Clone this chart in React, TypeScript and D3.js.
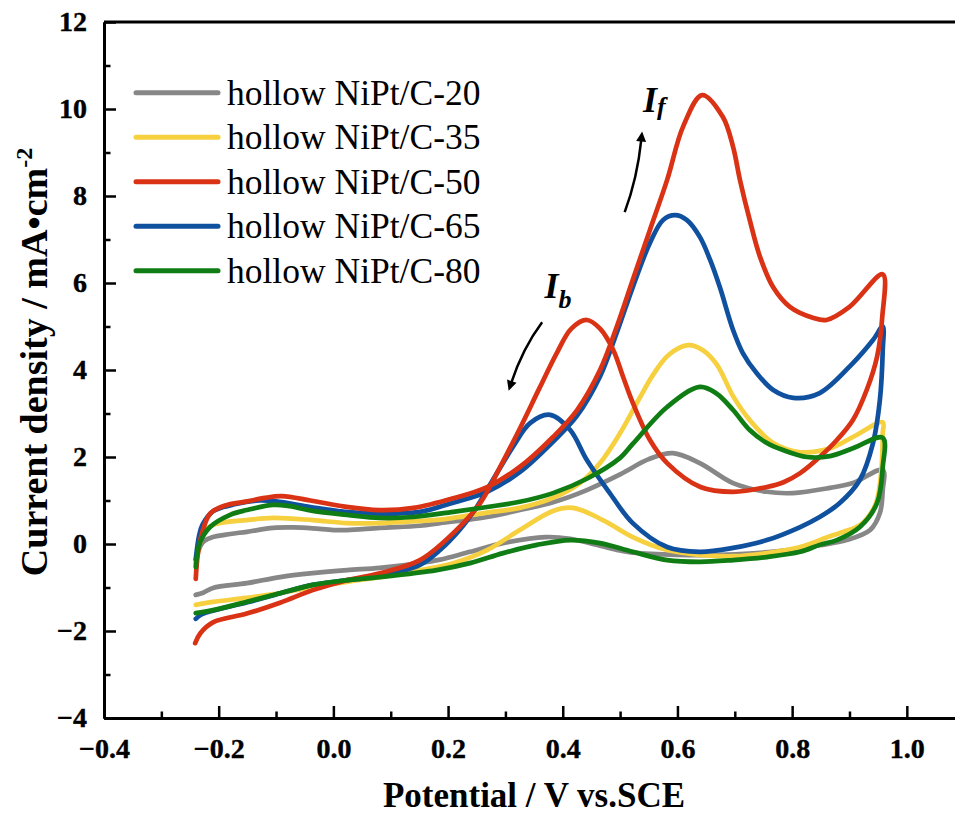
import { useEffect, useRef } from "react";
import * as d3 from "d3";

type Pt = [number, number];

// potential (V vs. SCE), current density (mA cm-2)
const c20Forward: Pt[] = [[-0.24,-0.37],[-0.232,-0.05],[-0.225,0.07],[-0.21,0.16],[-0.18,0.23],[-0.151,0.28],[-0.105,0.37],[-0.07,0.38],[-0.036,0.36],[0.0,0.32],[0.024,0.32],[0.081,0.37],[0.151,0.42],[0.186,0.48],[0.268,0.62],[0.325,0.78],[0.383,0.96],[0.442,1.24],[0.5,1.6],[0.55,1.95],[0.592,2.09],[0.639,1.86],[0.697,1.4],[0.756,1.2],[0.801,1.17],[0.866,1.29],[0.906,1.4],[0.958,1.7]];
const c20Backward: Pt[] = [[0.958,1.24],[0.953,0.71],[0.936,0.32],[0.895,0.09],[0.848,-0.03],[0.8,-0.13],[0.7,-0.24],[0.6,-0.25],[0.522,-0.2],[0.5,-0.15],[0.465,-0.04],[0.413,0.12],[0.37,0.16],[0.296,0.02],[0.238,-0.18],[0.186,-0.36],[0.151,-0.44],[0.081,-0.55],[0.024,-0.6],[-0.036,-0.67],[-0.093,-0.76],[-0.151,-0.9],[-0.21,-1.01],[-0.227,-1.12],[-0.24,-1.17]];

const c35Forward: Pt[] = [[-0.24,-0.45],[-0.233,0.0],[-0.227,0.25],[-0.21,0.44],[-0.151,0.55],[-0.105,0.6],[-0.036,0.55],[0.024,0.48],[0.081,0.48],[0.151,0.53],[0.186,0.56],[0.268,0.72],[0.325,0.83],[0.383,1.06],[0.43,1.4],[0.465,1.86],[0.5,2.55],[0.535,3.38],[0.558,3.9],[0.585,4.35],[0.619,4.57],[0.645,4.45],[0.669,4.12],[0.697,3.4],[0.726,2.85],[0.767,2.32],[0.814,2.11],[0.866,2.2],[0.906,2.46],[0.958,2.8]];
const c35Backward: Pt[] = [[0.958,2.55],[0.955,1.6],[0.945,0.9],[0.92,0.45],[0.89,0.28],[0.866,0.18],[0.814,-0.07],[0.756,-0.21],[0.697,-0.28],[0.639,-0.25],[0.582,-0.14],[0.522,0.16],[0.47,0.55],[0.418,0.83],[0.383,0.76],[0.325,0.32],[0.268,-0.14],[0.209,-0.44],[0.151,-0.6],[0.081,-0.76],[0.024,-0.87],[-0.036,-0.99],[-0.093,-1.13],[-0.151,-1.24],[-0.21,-1.33],[-0.24,-1.4]];

const c50Forward: Pt[] = [[-0.24,-0.8],[-0.236,-0.2],[-0.228,0.3],[-0.215,0.7],[-0.19,0.88],[-0.15,0.98],[-0.12,1.06],[-0.09,1.1],[-0.04,1.0],[0.02,0.86],[0.08,0.78],[0.14,0.83],[0.209,1.05],[0.268,1.31],[0.325,1.77],[0.383,2.46],[0.425,3.08],[0.465,4.0],[0.494,4.99],[0.522,6.07],[0.552,7.22],[0.582,8.37],[0.61,9.6],[0.643,10.32],[0.679,9.82],[0.697,9.13],[0.709,8.37],[0.726,7.45],[0.744,6.6],[0.767,5.9],[0.796,5.45],[0.836,5.2],[0.86,5.15],[0.9,5.45],[0.958,6.2]];
const c50Backward: Pt[] = [[0.957,5.2],[0.948,4.3],[0.93,3.54],[0.906,2.85],[0.878,2.39],[0.848,2.0],[0.814,1.63],[0.785,1.42],[0.756,1.31],[0.697,1.2],[0.64,1.31],[0.582,1.86],[0.552,2.39],[0.522,3.25],[0.505,3.85],[0.488,4.46],[0.465,4.95],[0.442,5.15],[0.415,4.95],[0.39,4.4],[0.36,3.6],[0.325,2.65],[0.29,1.75],[0.256,0.94],[0.209,0.25],[0.151,-0.37],[0.081,-0.67],[0.024,-0.83],[-0.036,-1.06],[-0.093,-1.35],[-0.151,-1.6],[-0.21,-1.8],[-0.232,-2.05],[-0.241,-2.28]];

const c65Forward: Pt[] = [[-0.24,-0.35],[-0.234,0.2],[-0.228,0.45],[-0.21,0.75],[-0.17,0.92],[-0.13,1.0],[-0.1,0.98],[-0.04,0.85],[0.02,0.74],[0.08,0.7],[0.151,0.74],[0.209,0.95],[0.268,1.2],[0.325,1.65],[0.383,2.35],[0.425,2.95],[0.465,3.85],[0.494,4.85],[0.522,5.9],[0.552,6.92],[0.575,7.45],[0.596,7.56],[0.616,7.45],[0.639,7.06],[0.657,6.53],[0.674,5.9],[0.697,4.92],[0.714,4.39],[0.738,3.93],[0.767,3.54],[0.802,3.36],[0.848,3.47],[0.906,4.16],[0.941,4.69],[0.958,5.0]];
const c65Backward: Pt[] = [[0.958,4.46],[0.953,3.31],[0.941,2.32],[0.918,1.47],[0.883,0.94],[0.848,0.62],[0.814,0.39],[0.756,0.09],[0.697,-0.09],[0.639,-0.18],[0.582,-0.07],[0.522,0.48],[0.482,1.17],[0.442,1.93],[0.413,2.62],[0.378,2.97],[0.343,2.78],[0.313,2.23],[0.278,1.47],[0.25,0.85],[0.22,0.32],[0.186,-0.14],[0.151,-0.48],[0.081,-0.74],[0.024,-0.83],[-0.036,-0.94],[-0.1,-1.16],[-0.15,-1.34],[-0.2,-1.5],[-0.23,-1.62],[-0.24,-1.72]];

const c80Forward: Pt[] = [[-0.24,-0.53],[-0.233,0.02],[-0.215,0.39],[-0.18,0.67],[-0.151,0.78],[-0.105,0.9],[-0.076,0.87],[-0.036,0.76],[0.024,0.67],[0.081,0.6],[0.139,0.62],[0.209,0.74],[0.268,0.85],[0.325,0.97],[0.383,1.17],[0.442,1.5],[0.5,1.98],[0.522,2.3],[0.582,3.15],[0.639,3.61],[0.668,3.46],[0.697,3.08],[0.726,2.62],[0.756,2.32],[0.784,2.16],[0.826,2.0],[0.866,2.02],[0.906,2.2],[0.958,2.44]];
const c80Backward: Pt[] = [[0.958,1.77],[0.948,0.94],[0.918,0.39],[0.878,0.09],[0.848,-0.02],[0.814,-0.18],[0.756,-0.3],[0.697,-0.37],[0.639,-0.41],[0.582,-0.37],[0.522,-0.18],[0.465,0.02],[0.413,0.09],[0.355,-0.02],[0.296,-0.21],[0.238,-0.44],[0.18,-0.6],[0.081,-0.76],[0.024,-0.83],[-0.036,-0.94],[-0.093,-1.13],[-0.151,-1.33],[-0.21,-1.52],[-0.24,-1.59]];

const seriesNames = ["hollow NiPt/C-20", "hollow NiPt/C-35", "hollow NiPt/C-50", "hollow NiPt/C-65", "hollow NiPt/C-80"];
const seriesColors = ["#878787", "#f6d03f", "#da3214", "#10519f", "#0f7d14"];
const seriesData = [
  c20Forward.concat(c20Backward),
  c35Forward.concat(c35Backward),
  c50Forward.concat(c50Backward),
  c65Forward.concat(c65Backward),
  c80Forward.concat(c80Backward),
];
const drawOrder = [0, 1, 3, 2, 4];

const xTicks = [-0.4, -0.2, 0.0, 0.2, 0.4, 0.6, 0.8, 1.0];
const xMinor = [-0.3, -0.1, 0.1, 0.3, 0.5, 0.7, 0.9];
const yTicks = [-4, -2, 0, 2, 4, 6, 8, 10, 12];
const yMinor = [-3, -1, 1, 3, 5, 7, 9, 11];

const FONT = "'Liberation Serif', 'Times New Roman', serif";

const App = () => {
  const ref = useRef<SVGSVGElement>(null);

  useEffect(() => {
    const left = 104, right = 955, top = 22, bottom = 718;

    const svg = d3.select(ref.current);
    svg.selectAll("*").remove();

    const x = d3.scaleLinear().domain([-0.4, 1.084]).range([left, right]);
    const y = d3.scaleLinear().domain([-4, 12]).range([bottom, top]);

    svg
      .append("defs")
      .append("marker")
      .attr("id", "head")
      .attr("viewBox", "0 0 10 10")
      .attr("refX", 2)
      .attr("refY", 5)
      .attr("markerWidth", 18)
      .attr("markerHeight", 10)
      .attr("markerUnits", "userSpaceOnUse")
      .attr("orient", "auto")
      .append("path")
      .attr("d", "M0,0 L10,5 L0,10 Z")
      .attr("fill", "#000");

    // curves
    const line = d3
      .line<Pt>()
      .x((d) => x(d[0]))
      .y((d) => y(d[1]))
      .curve(d3.curveCatmullRom.alpha(0.5));

    const g = svg.append("g");
    drawOrder.forEach((i) => {
      g.append("path")
        .attr("d", line(seriesData[i]))
        .attr("fill", "none")
        .attr("stroke", seriesColors[i])
        .attr("stroke-width", 4.7)
        .attr("stroke-linecap", "round")
        .attr("stroke-linejoin", "round");
    });

    // axes
    const fmtX = d3.format(".1f");
    const xAxis = svg
      .append("g")
      .attr("transform", `translate(0,${bottom})`)
      .call(
        d3.axisBottom(x).tickValues(xTicks).tickFormat((d) => fmtX(d as number)).tickSizeInner(-12).tickSizeOuter(0).tickPadding(20)
      );
    svg
      .append("g")
      .attr("transform", `translate(0,${bottom})`)
      .call(d3.axisBottom(x).tickValues(xMinor).tickFormat(() => "").tickSizeInner(-6.5).tickSizeOuter(0));

    const yAxis = svg
      .append("g")
      .attr("transform", `translate(${left},0)`)
      .call(d3.axisLeft(y).tickValues(yTicks).tickSizeInner(-12).tickSizeOuter(0).tickPadding(17));
    svg
      .append("g")
      .attr("transform", `translate(${left},0)`)
      .call(d3.axisLeft(y).tickValues(yMinor).tickFormat(() => "").tickSizeInner(-6.5).tickSizeOuter(0));

    svg.selectAll(".domain").attr("stroke", "#000").attr("stroke-width", 3);
    svg.selectAll(".tick line").attr("stroke", "#000").attr("stroke-width", 2.5);
    [xAxis, yAxis].forEach((a) =>
      a.selectAll("text")
        .attr("font-family", FONT)
        .attr("font-weight", "bold")
        .attr("font-size", 28)
        .attr("fill", "#000")
        .attr("stroke", "#000")
        .attr("stroke-width", 0.4)
    );

    svg
      .append("line")
      .attr("x1", left)
      .attr("x2", right)
      .attr("y1", top)
      .attr("y2", top)
      .attr("stroke", "#000")
      .attr("stroke-width", 3);

    // axis titles
    svg
      .append("text")
      .attr("x", 534)
      .attr("y", 807)
      .attr("text-anchor", "middle")
      .attr("font-family", FONT)
      .attr("font-weight", "bold")
      .attr("font-size", 35)
      .text("Potential / V vs.SCE");

    const yt = svg
      .append("text")
      .attr("transform", "translate(47,362) rotate(-90)")
      .attr("text-anchor", "middle")
      .attr("font-family", FONT)
      .attr("font-weight", "bold")
      .attr("font-size", 38);
    yt.append("tspan").text("Current density / mA\u2022cm");
    yt.append("tspan").attr("dy", -15).attr("font-size", 24).text("-2");

    // legend
    const lg = svg.append("g");
    seriesNames.forEach((name, i) => {
      const ry = 92.7 + i * 44.5;
      lg.append("line")
        .attr("x1", 136)
        .attr("x2", 218)
        .attr("y1", ry)
        .attr("y2", ry)
        .attr("stroke", seriesColors[i])
        .attr("stroke-width", 5)
        .attr("stroke-linecap", "round");
      lg.append("text")
        .attr("x", 227)
        .attr("y", ry + 12)
        .attr("font-family", FONT)
        .attr("font-size", 35.5)
        .text(name);
    });

    // peak annotations
    const addLabel = (v: number, c: number, sub: string, subDy: number) => {
      const t = svg
        .append("text")
        .attr("x", x(v))
        .attr("y", y(c))
        .attr("font-family", FONT)
        .attr("font-weight", "bold")
        .attr("font-style", "italic")
        .attr("font-size", 36);
      t.append("tspan").text("I");
      t.append("tspan").attr("dy", subDy).attr("font-size", 26).text(sub);
    };
    addLabel(0.54, 9.93, "f", 3);
    addLabel(0.368, 5.66, "b", 10);

    const arrow = (p0: Pt, p1: Pt, p2: Pt) => {
      const path = d3.path();
      path.moveTo(x(p0[0]), y(p0[1]));
      path.quadraticCurveTo(x(p1[0]), y(p1[1]), x(p2[0]), y(p2[1]));
      svg
        .append("path")
        .attr("d", path.toString())
        .attr("fill", "none")
        .attr("stroke", "#000")
        .attr("stroke-width", 2.5)
        .attr("marker-end", "url(#head)");
    };
    arrow([0.508, 7.63], [0.53, 8.4], [0.537, 9.3]);
    arrow([0.364, 5.1], [0.33, 4.5], [0.31, 3.7]);
  }, []);

  return (
    <svg
      ref={ref}
      width={955}
      height={816}
      style={{ position: "absolute", left: 0, top: 0, background: "#fff" }}
    />
  );
};

export default App;
